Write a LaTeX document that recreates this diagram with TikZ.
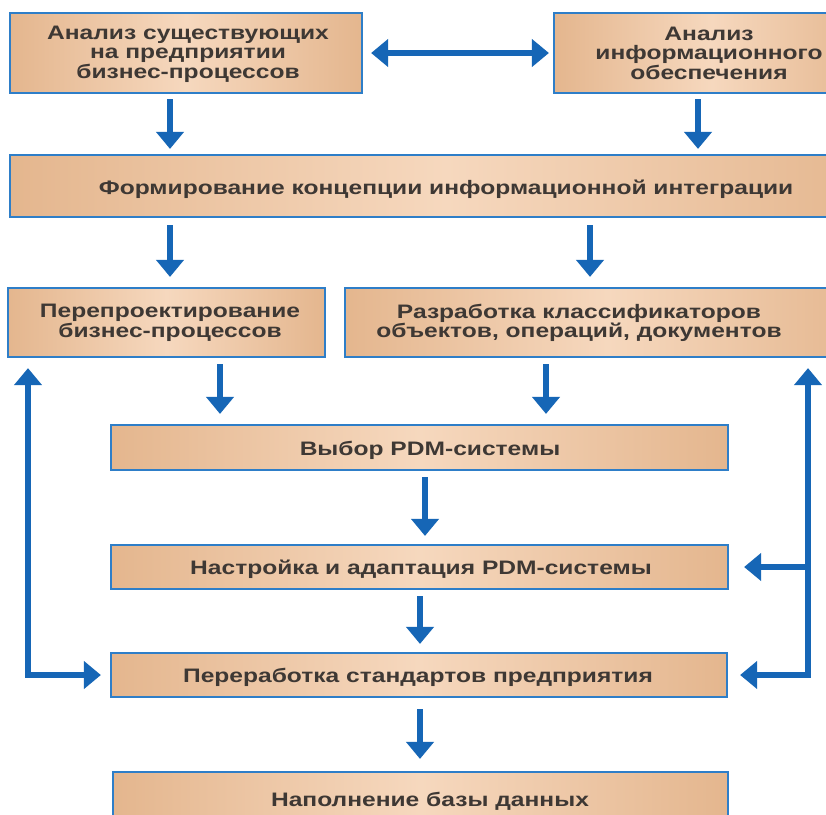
\documentclass[tikz,border=0pt]{standalone}
\usepackage{fontspec}
\newfontfamily\boxfont{Liberation Sans}[FakeStretch=1.26]
\usetikzlibrary{arrows.meta,calc}
\definecolor{boxedge}{RGB}{228,182,142}
\definecolor{boxmid}{RGB}{246,216,190}
\definecolor{boxline}{RGB}{46,126,200}
\definecolor{arrowblue}{RGB}{22,102,182}
\definecolor{txtgray}{RGB}{62,56,52}
\begin{document}
\begin{tikzpicture}[x=1pt,y=-1pt,
  box/.style={draw=boxline, line width=2.2pt, left color=boxedge, right color=boxedge,
    middle color=boxmid, rectangle, inner sep=0pt},
  txt/.style={font=\boxfont\bfseries\fontsize{19.5}{19.5}\selectfont, text=txtgray,
    align=center, inner sep=0pt},
  arr/.style={draw=arrowblue, line width=5.5pt, -{Triangle[length=17pt,width=27pt]},
    shorten <=6pt, shorten >=8pt},
  arrboth/.style={draw=arrowblue, line width=5.5pt,
    {Triangle[length=17pt,width=27pt]}-{Triangle[length=17pt,width=27pt]}}
]
\useasboundingbox (0,0) rectangle (826,814);
\clip (0,0) rectangle (826,814);
\fill[white] (0,0) rectangle (826,814);

% boxes
\node[box, minimum width=352pt, minimum height=80pt] (A) at (186,53) {};
\node[box, minimum width=316pt, minimum height=80pt] (B) at (712,53) {};
\node[box, minimum width=872pt, minimum height=62pt] (C) at (446,186) {};
\node[box, minimum width=317pt, minimum height=69pt] (D) at (166.5,322.5) {};
\node[box, minimum width=525pt, minimum height=69pt] (E) at (607.5,322.5) {};
\node[box, minimum width=617pt, minimum height=45pt] (F) at (419.5,447.5) {};
\node[box, minimum width=617pt, minimum height=44pt] (G) at (419.5,567) {};
\node[box, minimum width=616pt, minimum height=44pt] (H) at (419,675) {};
\node[box, minimum width=615pt, minimum height=78pt] (I) at (420.5,811) {};

% texts
\node[txt] (tA) at (188,54) {Анализ существующих\\на предприятии\\бизнес-процессов};
\node[txt] (tB) at (709,53) {Анализ\\информационного\\обеспечения};
\node[txt] (tC) at (446,189) {Формирование концепции информационной интеграции};
\node[txt] (tD) at (170,323) {Перепроектирование\\бизнес-процессов};
\node[txt] (tE) at (579,323) {Разработка классификаторов\\объектов, операций, документов};
\node[txt] (tF) at (430,450) {Выбор PDM-системы};
\node[txt] (tG) at (421,569) {Настройка и адаптация PDM-системы};
\node[txt] (tH) at (418,677) {Переработка стандартов предприятия};
\node[txt] (tI) at (430,801) {Наполнение базы данных};

% x positions of vertical arrows
\coordinate (x1) at (170,0);
\coordinate (x2) at (698,0);
\coordinate (x3) at (590,0);
\coordinate (x4) at (220,0);
\coordinate (x5) at (546,0);
\coordinate (x6) at (425,0);
\coordinate (x7) at (420,0);
\coordinate (xl) at (28,0);
\coordinate (xr) at (808,0);

% arrows
\draw[arrboth, shorten <=8pt, shorten >=4pt] (A.east) -- (A.east -| B.west);
\draw[arr, shorten <=5pt, shorten >=5pt] (A.south -| x1) -- (C.north -| x1);
\draw[arr, shorten <=5pt, shorten >=5pt] (B.south -| x2) -- (C.north -| x2);
\draw[arr, shorten <=7pt, shorten >=10pt] (C.south -| x1) -- (D.north -| x1);
\draw[arr, shorten <=7pt, shorten >=10pt] (C.south -| x3) -- (E.north -| x3);
\draw[arr, shorten <=6pt, shorten >=10pt] (D.south -| x4) -- (F.north -| x4);
\draw[arr, shorten <=6pt, shorten >=10pt] (E.south -| x5) -- (F.north -| x5);
\draw[arr] (F.south -| x6) -- (G.north -| x6);
\draw[arr] (G.south -| x7) -- (H.north -| x7);
\draw[arr, shorten <=11pt, shorten >=12pt] (H.south -| x7) -- (I.north -| x7);

% feedback lines
\draw[arrboth, shorten <=10pt, shorten >=9pt] (D.south -| xl) |- (H.west);
\draw[arrboth, shorten <=10pt, shorten >=12pt] (E.south -| xr) |- (H.east);
\draw[arr, shorten <=0pt, shorten >=15pt] (G.east -| xr) -- (G.east);
\end{tikzpicture}
\end{document}
